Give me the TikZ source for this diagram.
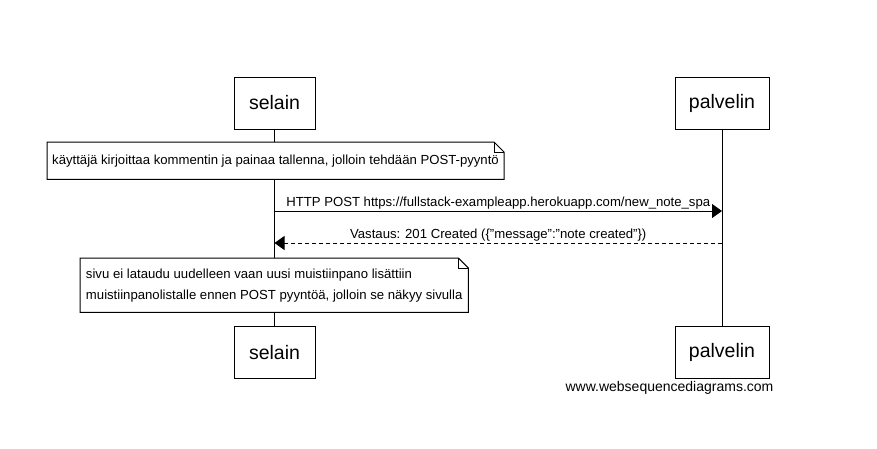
\documentclass[tikz,border=0pt]{standalone}
\usepackage{fontspec}
\setmainfont{Liberation Sans}
\usetikzlibrary{arrows.meta}
\tikzset{
	actor/.style={draw, line width=1pt, inner xsep=0pt, minimum width=#1, minimum height=52pt, font=\fontsize{19.5}{23}\selectfont},
	notebox/.style={fill=white, inner xsep=5pt, inner ysep=0pt, minimum height=#1, anchor=north west, align=left, font=\fontsize{13.15}{21}\selectfont},
	msg/.style={line width=1pt, -{Triangle[length=10pt,width=14pt]}},
	msglabel/.style={above, inner sep=1pt, font=\fontsize{13.15}{16}\selectfont}
}
\def\foldnote(#1){\draw[line width=1pt] (#1.north west) -- ([xshift=-10pt]#1.north east) -- ([yshift=-10pt]#1.north east) -- (#1.south east) -- (#1.south west) -- cycle; \draw[line width=1pt] ([xshift=-10pt]#1.north east) |- ([yshift=-10pt]#1.north east);}

\begin{document}
\begin{tikzpicture}[x=1pt, y=-1pt]
			%%%%% START %%%%%
			\useasboundingbox (0, 0) rectangle (877, 448);
			
			\node[actor=81pt] (selainTop) at (274.5, 103) {selain};
			\node[actor=94pt] (palvelinTop) at (722, 103) {palvelin};
			\node[actor=81pt] (selainBot) at (274.5, 352.5) {selain};
			\node[actor=94pt] (palvelinBot) at (722, 352.5) {palvelin};
			
			\draw[line width=1pt] (selainTop) -- (selainBot);
			\draw[line width=1pt] (palvelinTop) -- (palvelinBot);
			
			\node[notebox=37pt, minimum width=456pt] (note1) at (47, 142) {käyttäjä kirjoittaa kommentin ja painaa tallenna, jolloin tehdään POST-pyyntö};
			\foldnote(note1)
			
			\coordinate (m1) at (0, 211);
			\draw[msg] (selainTop |- m1) -- (palvelinTop |- m1) node[msglabel, midway] {HTTP POST https://fullstack-exampleapp.herokuapp.com/new\_note\_spa};
			
			\coordinate (m2) at (0, 243);
			\draw[msg, dash pattern=on 4pt off 3pt] (palvelinTop |- m2) -- (selainTop |- m2) node[msglabel, midway] {Vastaus: 201 Created (\{"message":"note created"\})};
			
			\node[notebox=54pt, minimum width=388pt] (note2) at (80, 258) {sivu ei lataudu uudelleen vaan uusi muistiinpano lisättiin\\muistiinpanolistalle ennen POST pyyntöä, jolloin se näkyy sivulla};
			\foldnote(note2)
			
			\node[font=\fontsize{14}{17}\selectfont] (wsd) at (669.5, 388) {www.websequencediagrams.com};
			%%%%% END %%%%%
\end{tikzpicture}
\end{document}
